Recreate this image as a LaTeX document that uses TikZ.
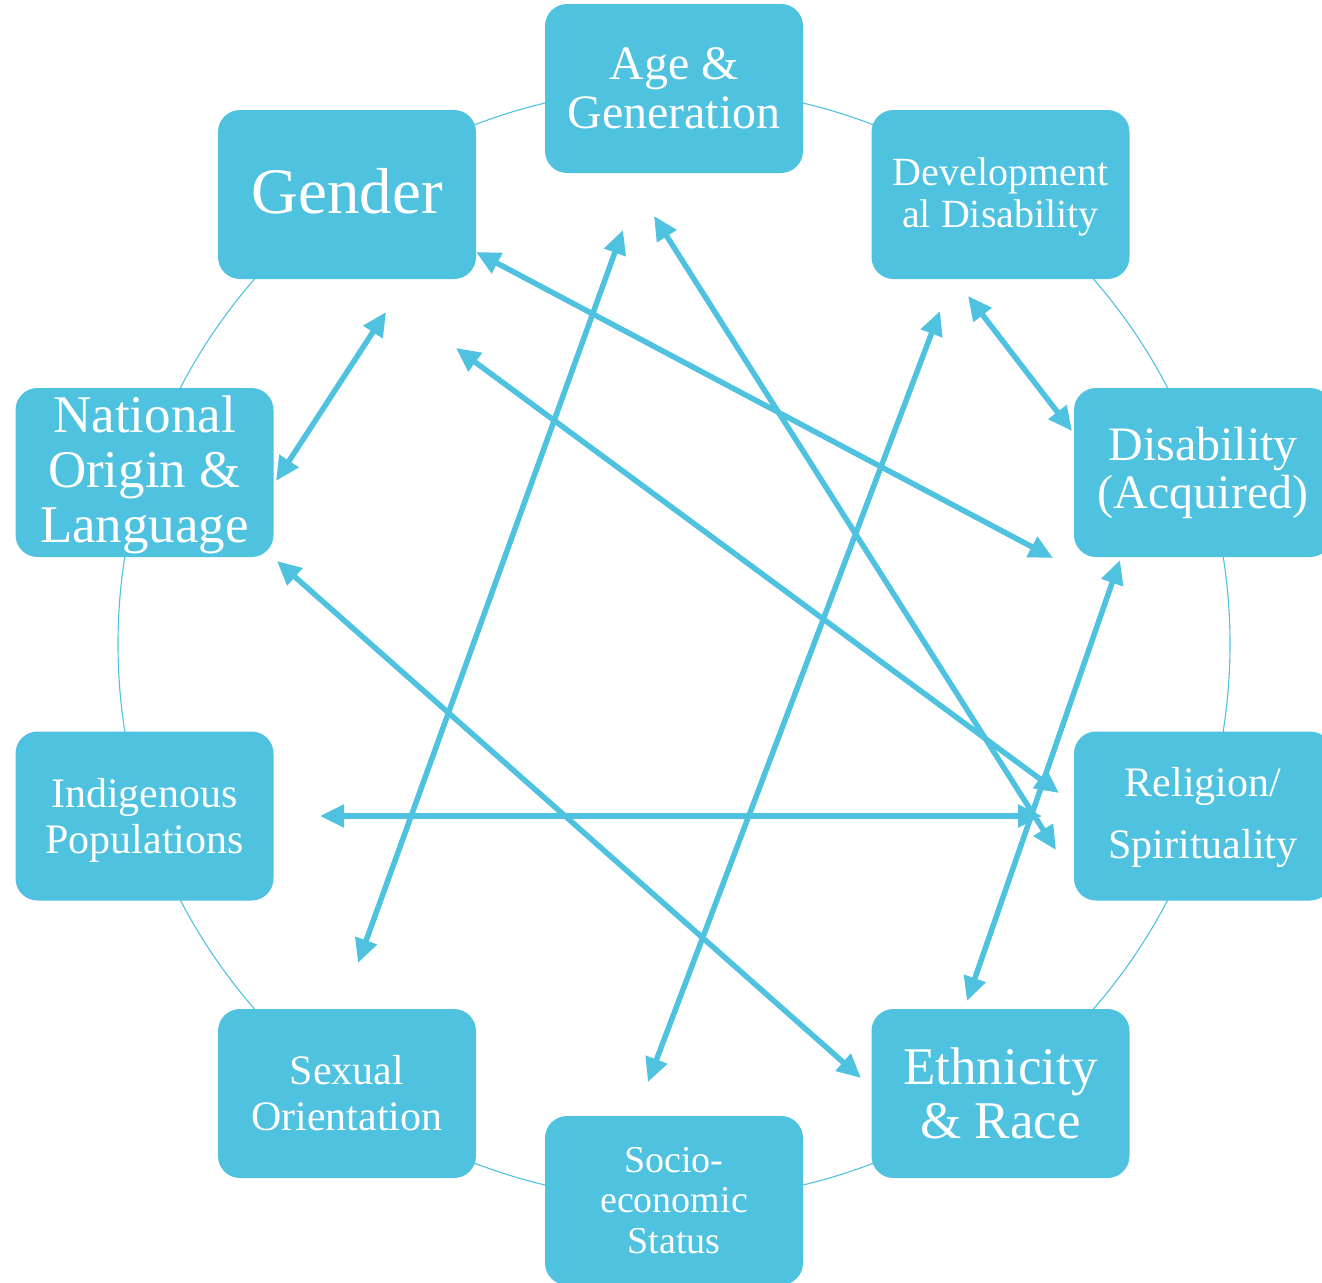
\documentclass[tikz,border=0pt]{standalone}
\usepackage{fontspec}
\setmainfont{Liberation Serif}
\usetikzlibrary{arrows.meta}
\definecolor{cblue}{RGB}{79,194,224}
\tikzset{
  box/.style={rectangle, rounded corners=22pt, fill=cblue, draw=none,
    minimum width=258pt, minimum height=169pt, text=white, align=center, inner sep=0pt},
  link/.style={cblue, line width=5.5pt,
    {Triangle[length=24pt,width=22pt]}-{Triangle[length=24pt,width=22pt]}},
  ring/.style={cblue, line width=1.1pt},
}
\newcommand{\fs}[2]{\fontsize{#1}{#2}\selectfont}
\begin{document}
\begin{tikzpicture}[x=1pt,y=-1pt]
\useasboundingbox (0,0) rectangle (1322,1282);
\clip (0,0) rectangle (1322,1282);

% ring linking the ten boxes
\draw[ring] (674,644) circle[radius=556pt];

% the ten boxes, 36 degrees apart
\node[box, font=\fs{48}{49}] (age) at (674,88.5) {Age \&\\Generation};
\node[box, font=\fs{40}{42}] (dev) at (1000.5,194.5) {\rule{0pt}{32pt}Development\\al Disability};
\node[box, font=\fs{48}{48}] (dis) at (1203,472.5) {Disability\\(Acquired)};
\node[box, font=\fs{42}{62}] (rel) at (1203,816) {\rule{0pt}{33pt}Religion/\\Spirituality};
\node[box, font=\fs{53}{54}] (eth) at (1000.5,1093.5) {Ethnicity\\\& Race};
\node[box, font=\fs{38}{40.5}] (ses) at (674,1200.5) {Socio-\\economic\\Status};
\node[box, font=\fs{42}{46}] (sex) at (347,1093.5) {Sexual\\Orientation};
\node[box, font=\fs{42}{46}] (ind) at (144.5,816) {\rule{0pt}{37pt}Indigenous\\Populations};
\node[box, font=\fs{53}{55}] (nat) at (144.5,472.5) {\rule{0pt}{41pt}National\\Origin \&\\Language};
\node[box, font=\fs{65}{65}] (gen) at (347,194.5) {Gender\rule[-7pt]{0pt}{7pt}};

% arrow end points
\coordinate (g1) at (476,252);   \coordinate (d1) at (1053,558);
\coordinate (g2) at (386,312);   \coordinate (n1) at (276,481);
\coordinate (a1) at (623,230);   \coordinate (s1) at (358,963);
\coordinate (a2) at (654,216);   \coordinate (r1) at (1056,850);
\coordinate (v1) at (940,311);   \coordinate (e1) at (648,1082);
\coordinate (v2) at (968,296);   \coordinate (d2) at (1072,431);
\coordinate (g3) at (456,348);   \coordinate (r2) at (1059,793);
\coordinate (i1) at (320,816);   \coordinate (r3) at (1042,816);
\coordinate (n2) at (277,561);   \coordinate (t1) at (861,1078);
\coordinate (d3) at (1120,560);  \coordinate (t2) at (967,1001);

% two-way links
\draw[link] (g1) -- (d1);
\draw[link] (g2) -- (n1);
\draw[link] (a1) -- (s1);
\draw[link] (a2) -- (r1);
\draw[link] (v1) -- (e1);
\draw[link] (v2) -- (d2);
\draw[link] (g3) -- (r2);
\draw[link] (i1) -- (r3);
\draw[link] (n2) -- (t1);
\draw[link] (d3) -- (t2);
\end{tikzpicture}
\end{document}
